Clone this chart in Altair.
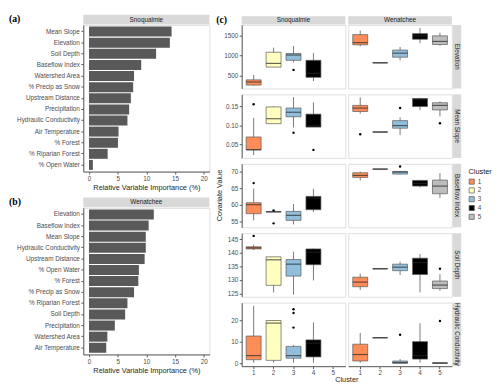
import altair as alt
import pandas as pd

FONT = "Liberation Sans"
LABEL_C = "#4d4d4d"
STRIP_FILL = "#d9d9d9"
LINE_C = "#595959"

# ---------------- panel (a) / (b) data ----------------
vars_a = ["Mean Slope", "Elevation", "Soil Depth", "Baseflow Index", "Watershed Area",
          "% Precip as Snow", "Upstream Distance", "Precipitation", "Hydraulic Conductivity",
          "Air Temperature", "% Forest", "% Riparian Forest", "% Open Water"]
imp_a = [14.4, 14.1, 11.7, 9.1, 7.85, 7.7, 7.3, 7.0, 6.7, 5.15, 5.05, 3.25, 0.67]

vars_b = ["Elevation", "Baseflow Index", "Mean Slope", "Hydraulic Conductivity",
          "Upstream Distance", "% Open Water", "% Forest", "% Precip as Snow",
          "% Riparian Forest", "Soil Depth", "Precipitation", "Watershed Area", "Air Temperature"]
imp_b = [11.3, 10.4, 9.9, 9.9, 9.7, 8.7, 8.6, 7.85, 6.7, 6.3, 4.5, 3.2, 3.0]

imp_ticks = [0, 5, 10, 15, 20]

# ---------------- panel (c) data ----------------
sites = ["Snoqualmie", "Wenatchee"]
covariates = ["Elevation", "Mean Slope", "Baseflow Index", "Soil Depth", "Hydraulic Conductivity"]
clusters = ["1", "2", "3", "4", "5"]
cluster_colors = ["#fc8d59", "#ffffbf", "#91bfdb", "#000000", "#bdbdbd"]

box_site = (["Snoqualmie"] * 4 + ["Wenatchee"] * 5) * 5
box_cov = [c for c in covariates for _ in range(9)]
box_cluster = ["1", "2", "3", "4", "1", "2", "3", "4", "5"] * 5

box_lo = [242, 711, 828, 359, 1234, 820, 883, 1313, 1250,
          0.0215, 0.104, 0.094, 0.095, 0.130, 0.082, 0.074, 0.139, 0.123,
          55.4, 57.9, 54.2, 57.9, 67.4, 70.8, 69.2, 65.3, 62.1,
          141.0, 125.4, 124.6, 129.8, 126.3, 134.1, 131.8, 125.4, 126.0,
          0.3, 0.3, 0.3, 0.3, 0.3, 11.9, 0.0, 0.3, 0.0]
box_q1 = [258, 711, 883, 453, 1273, 820, 961, 1414, 1281,
          0.035, 0.104, 0.122, 0.095, 0.136, 0.082, 0.092, 0.149, 0.140,
          57.4, 57.9, 55.4, 58.6, 68.3, 70.8, 69.3, 65.7, 63.4,
          141.4, 128.0, 131.4, 135.6, 127.5, 134.1, 133.4, 132.0, 126.8,
          1.7, 1.4, 2.4, 3.0, 1.1, 11.9, 0.0, 2.0, 0.0]
box_med = [336, 805, 1016, 555, 1328, 820, 1063, 1500, 1359,
           0.0356, 0.117, 0.134, 0.098, 0.145, 0.082, 0.099, 0.168, 0.152,
           60.1, 57.95, 56.9, 62.1, 68.9, 70.8, 69.9, 66.5, 65.7,
           141.8, 137.4, 135.8, 140.2, 129.2, 134.1, 134.7, 136.4, 128.1,
           3.6, 18.7, 3.6, 9.4, 4.1, 11.9, 0.4, 3.6, 0.15]
box_q3 = [390, 1086, 1055, 883, 1531, 820, 1141, 1555, 1500,
          0.069, 0.148, 0.145, 0.129, 0.152, 0.082, 0.112, 0.170, 0.159,
          60.7, 58.05, 58.1, 62.6, 69.7, 70.8, 70.1, 67.4, 67.5,
          142.2, 138.5, 137.5, 141.4, 131.0, 134.1, 135.8, 138.0, 129.6,
          12.7, 19.9, 7.9, 10.9, 8.9, 11.9, 1.1, 10.1, 0.3]
box_hi = [516, 1203, 1242, 1063, 1633, 820, 1219, 1703, 1578,
          0.119, 0.150, 0.174, 0.160, 0.173, 0.082, 0.121, 0.172, 0.162,
          64.9, 58.05, 60.3, 64.9, 70.05, 70.8, 70.1, 67.5, 69.6,
          143.0, 138.5, 140.4, 141.6, 132.3, 134.1, 136.7, 139.5, 132.1,
          26.7, 20.1, 8.4, 19.0, 14.1, 11.9, 2.0, 18.6, 0.3]

out_site = ["Snoqualmie", "Snoqualmie", "Snoqualmie", "Snoqualmie", "Wenatchee", "Wenatchee",
            "Wenatchee", "Snoqualmie", "Snoqualmie", "Snoqualmie", "Wenatchee", "Snoqualmie",
            "Wenatchee", "Snoqualmie", "Snoqualmie", "Snoqualmie", "Wenatchee", "Wenatchee"]
out_cov = ["Elevation", "Mean Slope", "Mean Slope", "Mean Slope", "Mean Slope", "Mean Slope",
           "Mean Slope", "Baseflow Index", "Baseflow Index", "Baseflow Index", "Baseflow Index",
           "Soil Depth", "Soil Depth", "Hydraulic Conductivity", "Hydraulic Conductivity",
           "Hydraulic Conductivity", "Hydraulic Conductivity", "Hydraulic Conductivity"]
out_cluster = ["3", "1", "3", "4", "1", "3", "5", "1", "2", "2", "3", "1", "5", "3", "3", "3", "3", "5"]
out_value = [641, 0.155, 0.080, 0.035, 0.076, 0.145, 0.105, 66.6, 58.4, 54.5, 71.6,
             146.2, 134.1, 25.1, 23.4, 16.6, 13.3, 19.7]

y_domains = {"Elevation": [172, 1775], "Mean Slope": [0.014, 0.181],
             "Baseflow Index": [53.3, 72.4], "Soil Depth": [123.8, 147.2],
             "Hydraulic Conductivity": [-1.3, 28.2]}
y_ticks = {"Elevation": [500, 1000, 1500], "Mean Slope": [0.05, 0.10, 0.15],
           "Baseflow Index": [55, 60, 65, 70], "Soil Depth": [125, 130, 135, 140, 145],
           "Hydraulic Conductivity": [0, 10, 20]}
y_formats = {"Elevation": "d", "Mean Slope": ".2f", "Baseflow Index": "d",
             "Soil Depth": "d", "Hydraulic Conductivity": "d"}

# ---------------- sizes ----------------
W_BAR, H_BAR = 129, 150
W_BOX, H_BOX = 106, 65
STEP = W_BOX / 5.2
BW = STEP * 0.75


def label_layer(text, x, y, size=6.5, color="#1a1a1a", angle=0, align="center",
                font=FONT, weight="normal"):
    return alt.Chart(pd.DataFrame({"t": [text]})).mark_text(
        fontSize=size, color=color, angle=angle, align=align, baseline="middle",
        font=font, fontWeight=weight
    ).encode(text="t:N", x=alt.value(x), y=alt.value(y))


def ghost(x0, x1, y0, y1):
    # invisible box that only fixes the layout bounds of a panel
    return alt.Chart(pd.DataFrame({"t": ["g"]})).mark_rect(opacity=0).encode(
        x=alt.value(x0), x2=alt.value(x1), y=alt.value(y0), y2=alt.value(y1))


def strip_top(text, w, y0, y1):
    rect = alt.Chart(pd.DataFrame({"t": [text]})).mark_rect(color=STRIP_FILL).encode(
        x=alt.value(0), x2=alt.value(w), y=alt.value(y0), y2=alt.value(y1))
    return [rect, label_layer(text, w / 2, (y0 + y1) / 2)]


def bar_panel(vars_, vals, site, tag, top_ghost):
    df = pd.DataFrame({"variable": vars_, "importance": vals})
    bars = alt.Chart(df).mark_bar(color="#595959").encode(
        y=alt.Y("variable:N", sort=vars_, title=None,
                scale=alt.Scale(paddingInner=0.1, paddingOuter=0.15),
                axis=alt.Axis(labelLimit=200)),
        x=alt.X("importance:Q", title="Relative Variable Importance (%)",
                scale=alt.Scale(domain=[-1, 21], nice=False, zero=False),
                axis=alt.Axis(values=imp_ticks)),
        x2=alt.datum(0),
    )
    layers = [bars] + strip_top(site, W_BAR, -10.5, -0.5)
    layers.append(label_layer(tag, -76, -6, size=10, color="black", align="left",
                              font="Liberation Serif", weight="bold"))
    if top_ghost:
        layers.append(ghost(0, W_BAR, -12.5, 0))
    return alt.layer(*layers).properties(width=W_BAR, height=H_BAR)


color_enc = alt.Color(
    "cluster:N",
    scale=alt.Scale(domain=clusters, range=cluster_colors),
    legend=alt.Legend(title="Cluster", orient="none", legendX=394, legendY=146.5, padding=0,
                      symbolType="square", symbolSize=28, symbolStrokeColor=LINE_C,
                      symbolStrokeWidth=0.7, titleFontSize=7.5, labelFontSize=6.5,
                      titleFontWeight="normal", rowPadding=0, titlePadding=3,
                      labelOffset=3, titleColor="#1a1a1a", labelColor=LABEL_C,
                      titleFont=FONT, labelFont=FONT),
)


def box_panel(site, cov, r):
    idx = [i for i in range(len(box_site)) if box_site[i] == site and box_cov[i] == cov]
    dfb = pd.DataFrame({
        "cluster": [box_cluster[i] for i in idx],
        "lo": [box_lo[i] for i in idx],
        "q1": [box_q1[i] for i in idx],
        "med": [box_med[i] for i in idx],
        "q3": [box_q3[i] for i in idx],
        "hi": [box_hi[i] for i in idx],
    })
    oidx = [i for i in range(len(out_site)) if out_site[i] == site and out_cov[i] == cov]
    bottom = r == len(covariates) - 1
    left = site == "Snoqualmie"
    xscale = alt.Scale(domain=clusters, paddingInner=0.25, paddingOuter=0.225)

    def X(center=False):
        kw = dict(scale=xscale, title=None)
        if center:
            kw["bandPosition"] = 0.5
        kw["axis"] = alt.Axis(labelAngle=0) if bottom else None
        return alt.X("cluster:N", **kw)

    yscale = alt.Scale(domain=y_domains[cov], nice=False, zero=False)

    def Y(field):
        if left:
            ax = alt.Axis(values=y_ticks[cov], format=y_formats[cov])
        else:
            ax = None
        return alt.Y(field + ":Q", scale=yscale, axis=ax, title=None)

    layers = [
        alt.Chart(dfb).mark_rule(color=LINE_C, strokeWidth=0.8).encode(
            x=X(True), y=Y("lo"), y2="hi:Q"),
        alt.Chart(dfb).mark_bar(stroke=LINE_C, strokeWidth=0.7).encode(
            x=X(), y=Y("q1"), y2="q3:Q", color=color_enc),
        alt.Chart(dfb).mark_tick(color="#262626", thickness=1.2, size=BW).encode(
            x=X(), y=Y("med")),
    ]
    if oidx:
        dfo = pd.DataFrame({"cluster": [out_cluster[i] for i in oidx],
                            "value": [out_value[i] for i in oidx]})
        layers.append(alt.Chart(dfo).mark_circle(size=6, color="black", opacity=1).encode(
            x=X(), y=Y("value")))
    if r == 0:
        layers += strip_top(site, W_BOX, -9, -0.5)
    if not left:
        rect = alt.Chart(pd.DataFrame({"t": [cov]})).mark_rect(color=STRIP_FILL).encode(
            x=alt.value(W_BOX + 1), x2=alt.value(W_BOX + 9.5), y=alt.value(0), y2=alt.value(H_BOX))
        layers += [rect, label_layer(cov, W_BOX + 5.25, H_BOX / 2, angle=90)]
    if left:
        layers.append(ghost(-31, 0, -9.5 if r == 0 else 0, H_BOX))
    if left and r == 0:
        layers.append(label_layer("(c)", -26, -4.5, size=10, color="black", align="left",
                                  font="Liberation Serif", weight="bold"))
    if left and r == 2:
        layers.append(label_layer("Covariate Value", -22, H_BOX / 2, size=7.5,
                                  color="#262626", angle=270))
    if left and bottom:
        layers.append(label_layer("Cluster", (2 * W_BOX + 3) / 2, H_BOX + 14, size=7.5,
                                  color="#262626"))
    return alt.layer(*layers).properties(width=W_BOX, height=H_BOX)


chart_a = bar_panel(vars_a, imp_a, "Snoqualmie", "(a)", True)
chart_b = bar_panel(vars_b, imp_b, "Wenatchee", "(b)", False)

left_block = alt.vconcat(chart_a, chart_b, spacing=37, bounds="flush").resolve_scale(
    x="independent", y="independent")

rows = []
for r, cov in enumerate(covariates):
    rows.append(alt.hconcat(box_panel("Snoqualmie", cov, r), box_panel("Wenatchee", cov, r),
                            spacing=3, bounds="flush").resolve_scale(x="independent", y="independent"))
right_block = alt.vconcat(*rows, spacing=4).resolve_scale(x="independent", y="independent")

chart = alt.hconcat(left_block, right_block, spacing=0).resolve_scale(
    x="independent", y="independent"
).properties(padding=0).configure(font=FONT).configure_view(
    stroke="#dedede", strokeWidth=1
).configure_axis(
    labelFontSize=6.5, labelColor=LABEL_C, titleFontSize=7.5, titleColor="#262626",
    titleFontWeight="normal", tickColor=LINE_C, domainColor=LINE_C, tickSize=2.5,
    labelPadding=1.5, titlePadding=2, grid=False, labelFont=FONT, titleFont=FONT
)

chart.save("out.html", embed_options={"renderer": "svg", "actions": False})
